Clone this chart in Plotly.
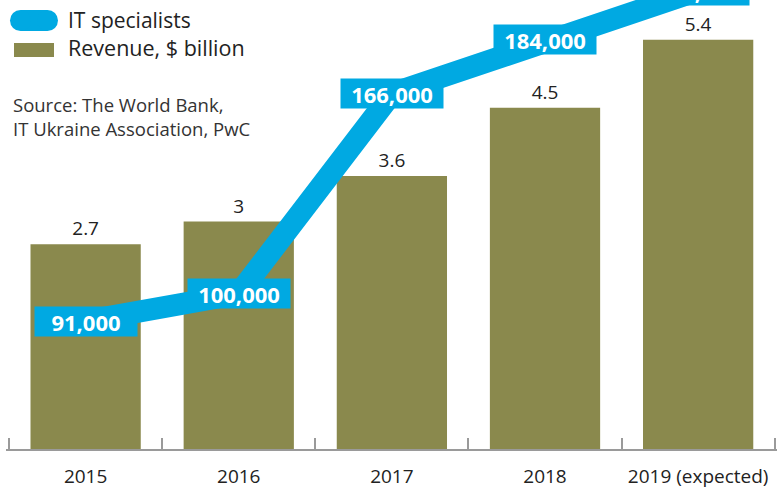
import plotly.graph_objects as go

# ---- data ----
years = ["2015", "2016", "2017", "2018", "2019 (expected)"]
revenue = [2.7, 3, 3.6, 4.5, 5.4]
specialists = [91000, 100000, 166000, 184000, 200000]
spec_labels = ["91,000", "100,000", "166,000", "184,000", "200,000"]

# ---- style ----
CYAN = "#00A9E2"
OLIVE = "#8A894D"
TEXT = "#222222"
FONT = "Open Sans, sans-serif"

W, H = 777, 488
ML, MR, MT, MB = 6, 0, 0, 39
PW, PH = W - ML - MR, H - MT - MB

Y1_RANGE = [0, 5.923]
Y2_RANGE = [48800, 196900]

fig = go.Figure()

fig.add_trace(go.Bar(
    x=years, y=revenue,
    marker=dict(color=OLIVE, line=dict(width=0)),
    width=0.72,
    text=[f"{v:g}" for v in revenue],
    textposition="outside",
    textfont=dict(family=FONT, size=19, color=TEXT),
    cliponaxis=False,
    showlegend=False,
    yaxis="y",
))

fig.add_trace(go.Scatter(
    x=years, y=specialists,
    mode="lines",
    line=dict(color=CYAN, width=22),
    showlegend=False,
    yaxis="y2",
))

annotations = []
y2_top = Y2_RANGE[1]
px_per_unit = PH / (Y2_RANGE[1] - Y2_RANGE[0])
for i, (v, lab) in enumerate(zip(specialists, spec_labels)):
    yy = min(v, y2_top)
    shift = (v - yy) * px_per_unit
    annotations.append(dict(
        x=i, y=yy, xref="x", yref="y2", yshift=shift,
        text=f"<b>{lab}</b>", showarrow=False,
        font=dict(family=FONT, size=22, color="white"),
        bgcolor=CYAN, borderpad=0, width=102, height=29,
        align="center", valign="middle",
    ))


def px(x):
    return (x - ML) / PW


def py(y):
    return 1 - (y - MT) / PH


# legend text and source
annotations += [
    dict(x=px(66), y=py(20), xref="paper", yref="paper", xanchor="left", yanchor="middle",
         text="IT specialists", showarrow=False,
         font=dict(family=FONT, size=21, color=TEXT)),
    dict(x=px(66), y=py(48), xref="paper", yref="paper", xanchor="left", yanchor="middle",
         text="Revenue, $ billion", showarrow=False,
         font=dict(family=FONT, size=21.5, color=TEXT)),
    dict(x=px(11), y=py(116), xref="paper", yref="paper", xanchor="left", yanchor="middle",
         text="Source: The World Bank,<br>IT Ukraine Association, PwC", showarrow=False,
         align="left", font=dict(family=FONT, size=18.5, color="#333333")),
]

shapes = [
    dict(type="rect", xref="paper", yref="paper", x0=px(20.5), x1=px(47.5), y0=py(31), y1=py(10),
         fillcolor=CYAN, line=dict(width=0)),
    dict(type="circle", xref="paper", yref="paper", x0=px(10), x1=px(31), y0=py(31), y1=py(10),
         fillcolor=CYAN, line=dict(width=0)),
    dict(type="circle", xref="paper", yref="paper", x0=px(37), x1=px(58), y0=py(31), y1=py(10),
         fillcolor=CYAN, line=dict(width=0)),
    dict(type="rect", xref="paper", yref="paper", x0=px(14), x1=px(54), y0=py(57), y1=py(43),
         fillcolor=OLIVE, line=dict(width=0)),
]

fig.update_layout(
    width=W, height=H, autosize=False,
    margin=dict(l=ML, r=MR, t=MT, b=MB, pad=0),
    paper_bgcolor="white", plot_bgcolor="white",
    font=dict(family=FONT, color=TEXT),
    showlegend=False,
    bargap=0.28,
    xaxis=dict(
        type="category", range=[-0.52, 4.515],
        showline=True, linecolor="#9A9A9A", linewidth=2,
        ticks="inside", tickson="boundaries", ticklen=11, tickwidth=2, tickcolor="#9A9A9A",
        tickfont=dict(family=FONT, size=19, color=TEXT),
        ticklabelstandoff=9,
        showgrid=False, zeroline=False, fixedrange=True,
    ),
    yaxis=dict(range=Y1_RANGE, visible=False, showgrid=False, zeroline=False),
    yaxis2=dict(range=Y2_RANGE, overlaying="y", side="right", visible=False,
                showgrid=False, zeroline=False),
    annotations=annotations,
    shapes=shapes,
)

fig.write_html("out.html")
